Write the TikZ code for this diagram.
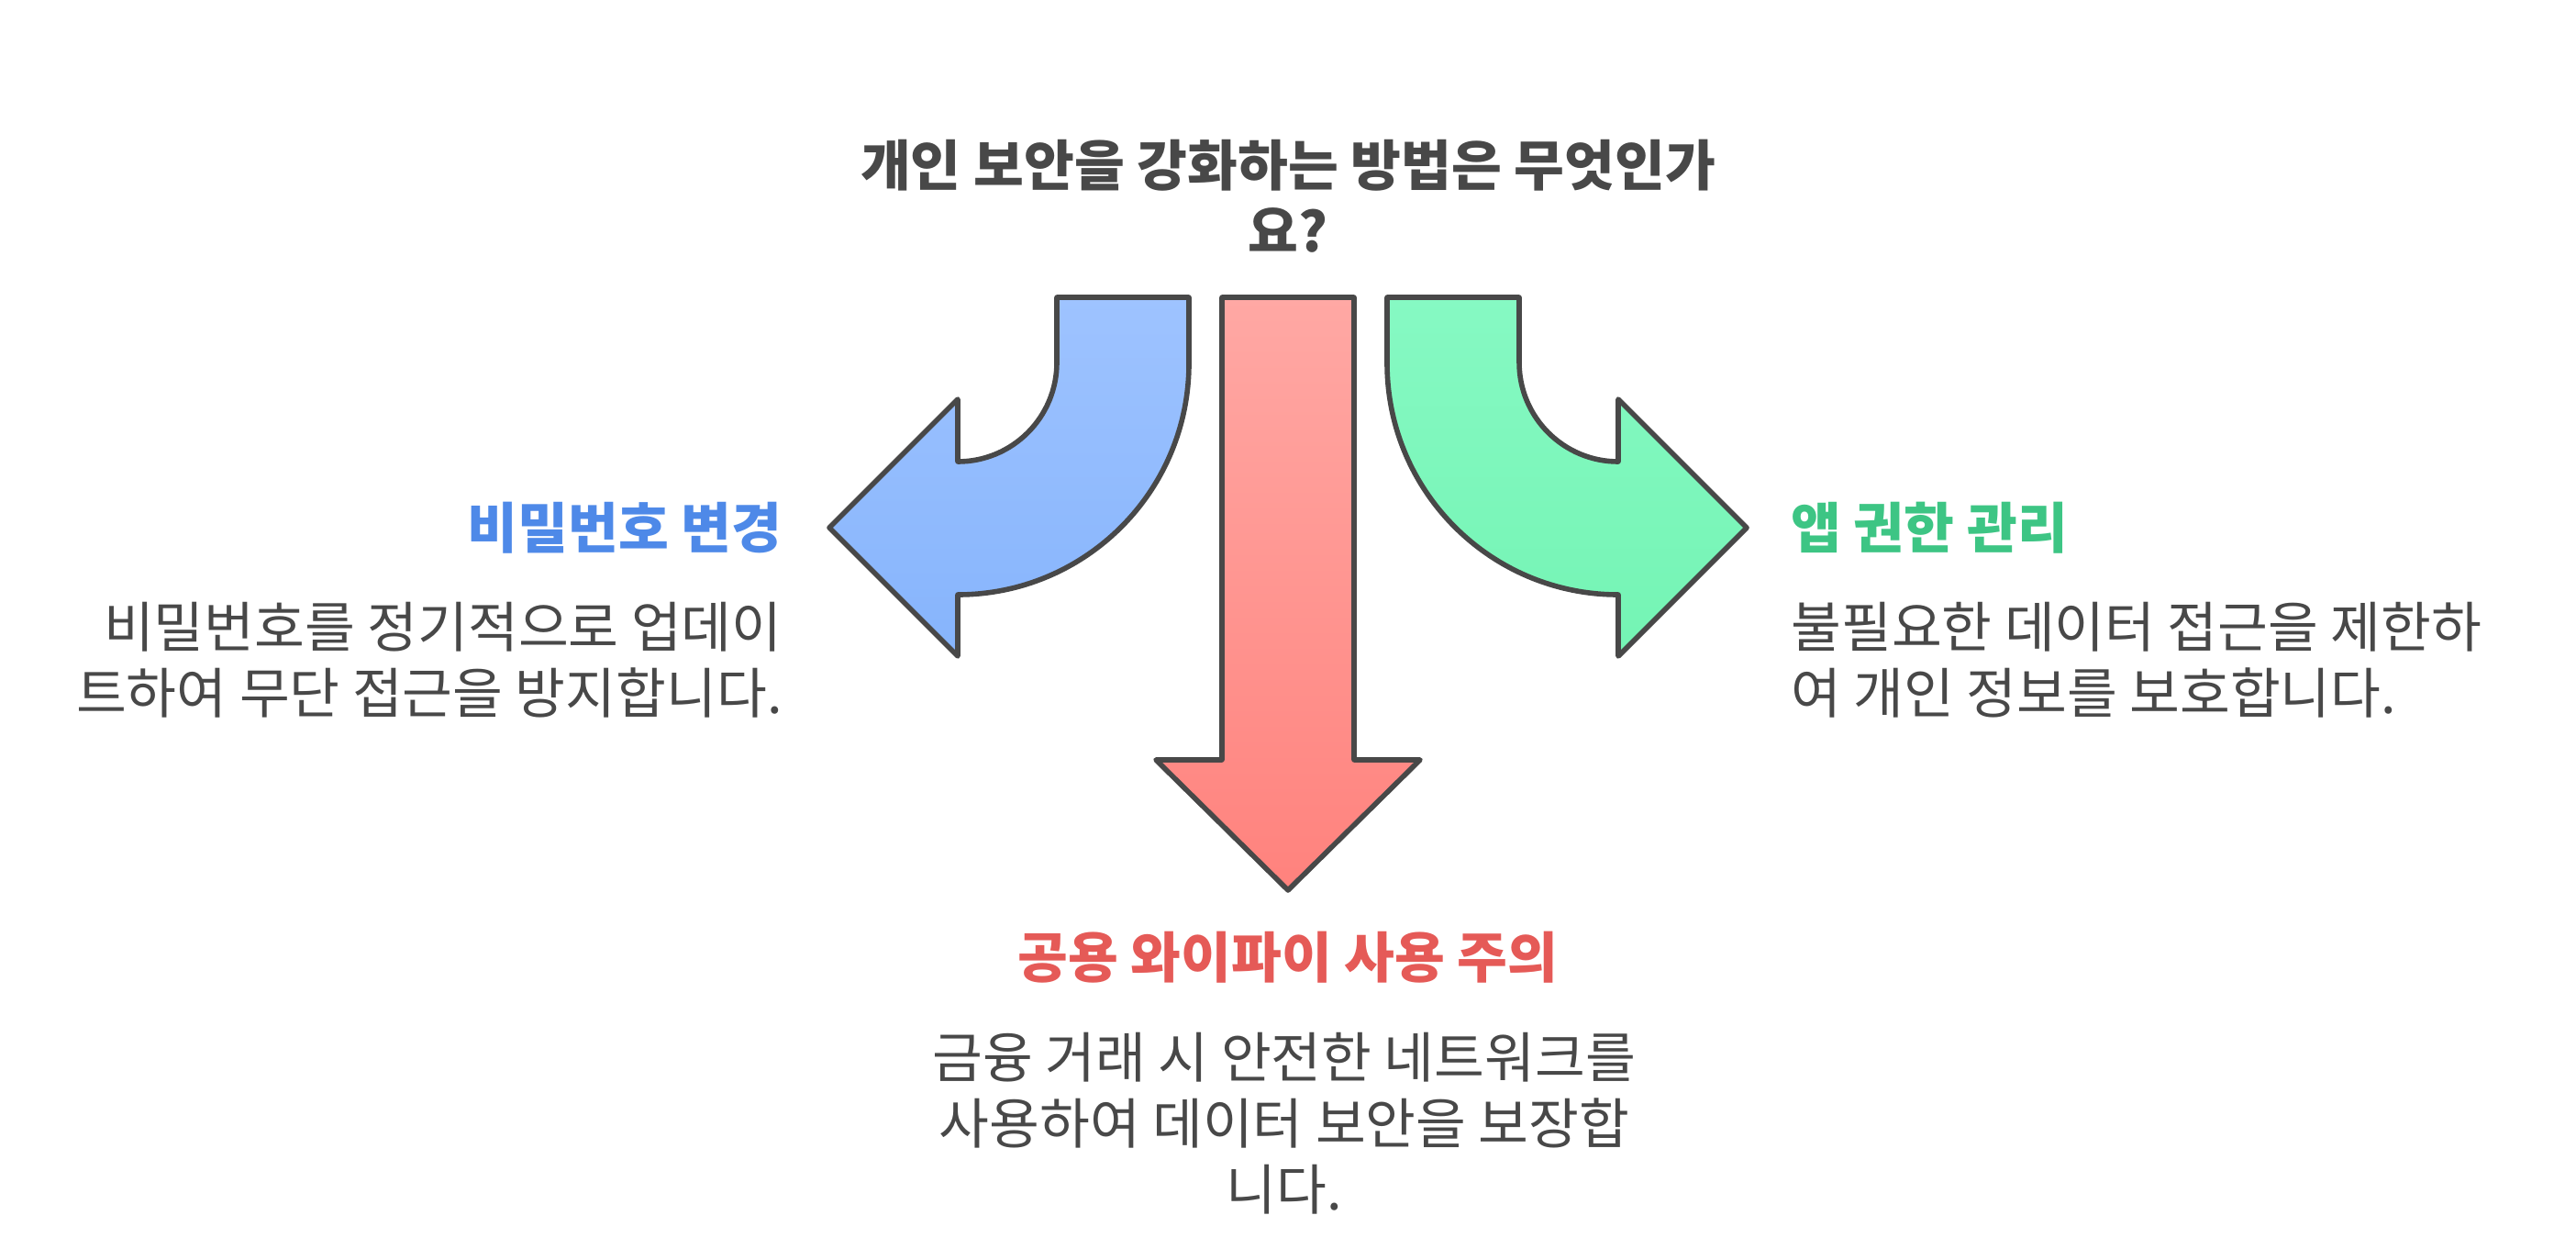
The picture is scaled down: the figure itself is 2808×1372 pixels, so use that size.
\documentclass[tikz,border=0pt]{standalone}
\usepackage{fontspec}
\setmainfont{Noto Sans CJK KR}
\usetikzlibrary{positioning}
\definecolor{ink}{HTML}{484848}
\definecolor{blueTop}{HTML}{9EC3FF}
\definecolor{blueBot}{HTML}{86B4FC}
\definecolor{blueHead}{HTML}{4E89E8}
\definecolor{redTop}{HTML}{FFA8A4}
\definecolor{redBot}{HTML}{FF827D}
\definecolor{redHead}{HTML}{E55A57}
\definecolor{greenTop}{HTML}{86F9C3}
\definecolor{greenBot}{HTML}{74F4B4}
\definecolor{greenHead}{HTML}{3DC584}

\begin{document}
\begin{tikzpicture}[
    x=0.5pt, y=0.5pt,
    font=\fontsize{29.8pt}{36pt}\selectfont, text=ink,
    shape_line/.style={draw=ink, line width=2.8pt, line join=round},
    arr_blue/.style  ={shape_line, top color=blueTop, middle color=blueTop, bottom color=blueBot},
    arr_red/.style   ={shape_line, top color=redTop, middle color=redTop!60!redBot, bottom color=redBot},
    arr_green/.style ={shape_line, top color=greenTop, middle color=greenTop, bottom color=greenBot},
    heading/.style   ={inner sep=0pt, font=\fontsize{29.8pt}{36pt}\selectfont\bfseries},
    desc/.style      ={inner sep=0pt}
]
\useasboundingbox (0,0) rectangle (2808,-1372);

% Question
\node (question) [heading, align=center] at (1404,-214) {개인 보안을 강화하는 방법은 무엇인가\\요?};

% Arrows
\draw[arr_blue] (1152,-324) -- (1296,-324) -- (1296,-396)
    arc[start angle=0, end angle=-90, radius=252] -- (1044,-715) -- (904,-575)
    -- (1044,-435) -- (1044,-503) arc[start angle=-90, end angle=0, radius=108] -- cycle;
\draw[arr_red] (1332,-324) -- (1476,-324) -- (1476,-828) -- (1548,-828) -- (1404,-970)
    -- (1260,-828) -- (1332,-828) -- cycle;
\draw[arr_green] (1656,-324) -- (1512,-324) -- (1512,-396)
    arc[start angle=180, end angle=270, radius=252] -- (1764,-715) -- (1904,-575)
    -- (1764,-435) -- (1764,-503) arc[start angle=270, end angle=180, radius=108] -- cycle;

% Left: password
\node (pw_title) [heading, text=blueHead, anchor=east] at (853,-575) {비밀번호 변경};
\node (pw_desc) [desc, align=right, anchor=east] at (853,-719)
    {비밀번호를 정기적으로 업데이\\트하여 무단 접근을 방지합니다.};

% Bottom: public wifi
\node (wifi_title) [heading, text=redHead] at (1404,-1043) {공용 와이파이 사용 주의};
\node (wifi_desc) [desc, align=center] at (1400,-1224)
    {금융 거래 시 안전한 네트워크를\\사용하여 데이터 보안을 보장합\\니다.};

% Right: app permissions
\node (app_title) [heading, text=greenHead, anchor=west] at (1952,-575) {앱 권한 관리};
\node (app_desc) [desc, align=left, anchor=west] at (1952,-719)
    {불필요한 데이터 접근을 제한하\\여 개인 정보를 보호합니다.};

\end{tikzpicture}
\end{document}
